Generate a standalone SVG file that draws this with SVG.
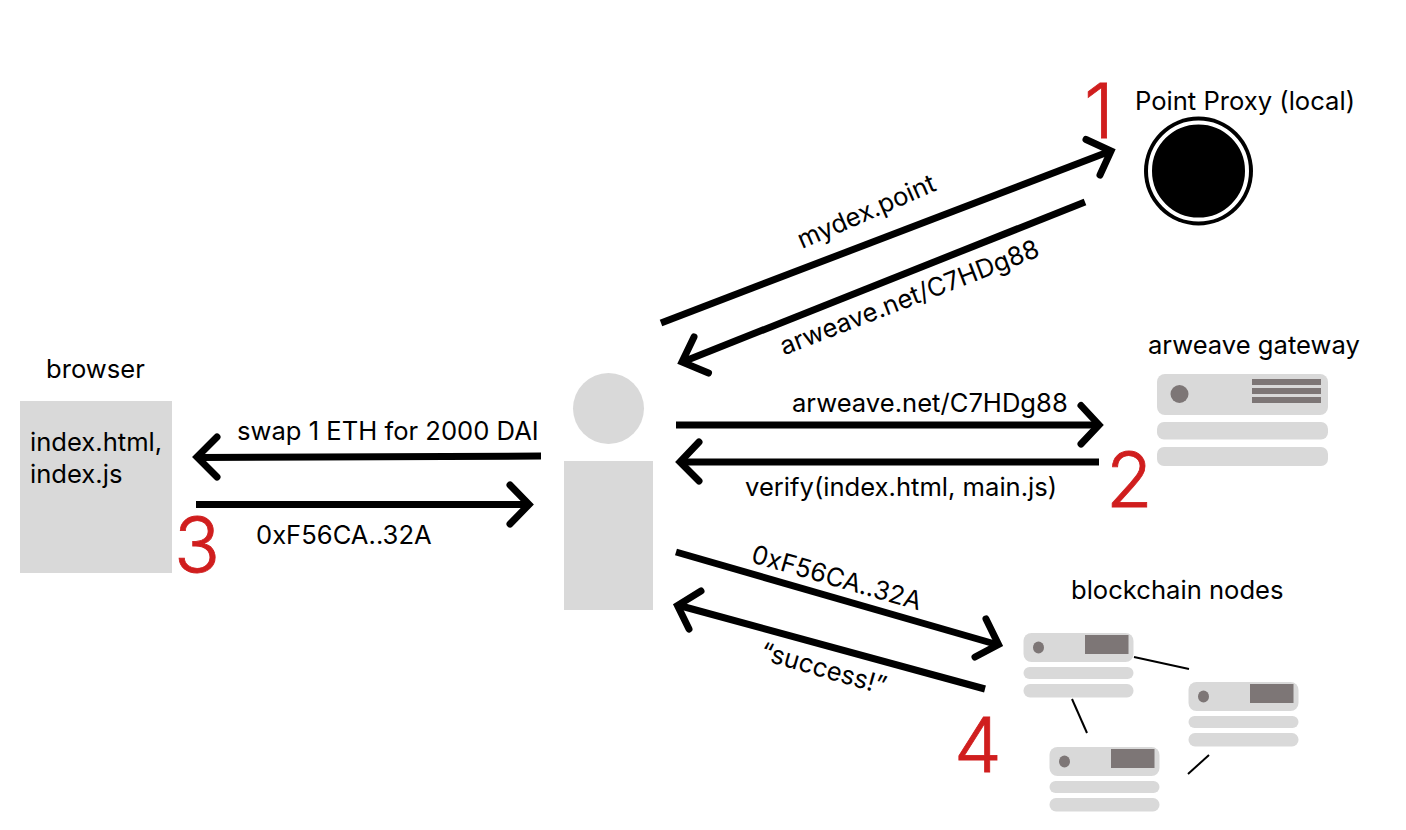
<svg xmlns="http://www.w3.org/2000/svg" width="1406" height="830" viewBox="0 0 1406 830">
<style>
text{font-family:Inter,"Liberation Sans",sans-serif;font-size:25.600px;fill:#000}
.n{font-size:76px;font-weight:300;fill:#d01e1e;stroke:#d01e1e;stroke-width:.8px}
.g{fill:#d9d9d9}
.d{fill:#7d7676}
.a{fill:none;stroke:#000;stroke-width:7}
.h{fill:none;stroke:#000;stroke-width:7;stroke-linecap:round;stroke-linejoin:miter}
.l{stroke:#000;stroke-width:2;fill:none}
</style>
<defs>
<g id="small">
<rect class="g" width="110" height="29" rx="8"/>
<ellipse class="d" cx="15" cy="14.500" rx="5.500" ry="6"/>
<rect class="d" x="61.500" y="2" width="43.500" height="19"/>
<rect class="g" y="34" width="110" height="12" rx="6"/>
<rect class="g" y="51" width="110" height="13.500" rx="6.500"/>
</g>
</defs>
<g id="connectors">
<path class="a" d="M661 323L1108 152"/><path class="h" d="M1086 139.500L1111 151L1100 175"/>
<path class="a" d="M1085 202L685 361"/><path class="h" d="M694 337L682 362L708.500 373"/>
<path class="a" d="M676 425L1096 425"/><path class="h" d="M1081 405.500L1099 425L1081 444"/>
<path class="a" d="M1099 462L683 462"/><path class="h" d="M699 442L680 462L699 481"/>
<path class="a" d="M541 456L200 457.500"/><path class="h" d="M217 437L197 457L217 477"/>
<path class="a" d="M196 504.500L526 504.500"/><path class="h" d="M510 485L529 504.500L510 524"/>
<path class="a" d="M676 552L995 644"/><path class="h" d="M986 619L998.500 644.500L975 657"/>
<path class="a" d="M985 689L681 606"/><path class="h" d="M701 591L677.500 605.500L689 629"/>
<path class="l" d="M1134 657L1189 669"/>
<path class="l" d="M1072 699L1087 733"/>
<path class="l" d="M1209 755L1188 774"/>
</g>
<g id="proxy">
<circle cx="1198.500" cy="171" r="54.500" fill="#000"/>
<circle cx="1198.500" cy="171" r="48.500" fill="none" stroke="#fff" stroke-width="4"/>
<text x="1135" y="110">Point Proxy (local)</text>
</g>
<g id="gateway">
<rect class="g" x="1157" y="374" width="171" height="41" rx="8"/>
<circle class="d" cx="1179.500" cy="394" r="9"/>
<rect class="d" x="1252" y="379" width="69" height="6"/>
<rect class="d" x="1252" y="388" width="69" height="6"/>
<rect class="d" x="1252" y="397" width="69" height="6"/>
<rect class="g" x="1157" y="422" width="171" height="17.500" rx="7"/>
<rect class="g" x="1157" y="447" width="171" height="19" rx="7"/>
<text x="1148" y="354">arweave gateway</text>
</g>
<g id="browser">
<rect class="g" x="20" y="401" width="152" height="172"/>
<text x="46" y="378">browser</text>
<text x="30" y="451">index.html,</text>
<text x="30" y="483">index.js</text>
</g>
<g id="user">
<circle class="g" cx="608.500" cy="408.500" r="35.500"/>
<rect class="g" x="564" y="461" width="89" height="149"/>
</g>
<g id="blockchain">
<use href="#small" x="1023.500" y="633"/>
<use href="#small" x="1188.500" y="682"/>
<use href="#small" x="1049.500" y="747"/>
<text x="1071" y="599">blockchain nodes</text>
</g>
<g id="labels">
<text transform="translate(802 249) rotate(-23.500)">mydex.point</text>
<text transform="translate(784 355.500) rotate(-21.200)">arweave.net/C7HDg88</text>
<text x="792" y="412">arweave.net/C7HDg88</text>
<text x="745" y="496">verify(index.html, main.js)</text>
<text x="237" y="440">swap 1 ETH for 2000 DAI</text>
<text x="256" y="544">0xF56CA..32A</text>
<text transform="translate(750 562) rotate(16)">0xF56CA..32A</text>
<text transform="translate(759 659) rotate(16)">“success!”</text>
</g>
<g id="numbers">
<text class="n" x="1084" y="137.500">1</text>
<text class="n" x="1106" y="507">2</text>
<text class="n" x="174" y="572">3</text>
<text class="n" x="954" y="772">4</text>
</g>
</svg>
